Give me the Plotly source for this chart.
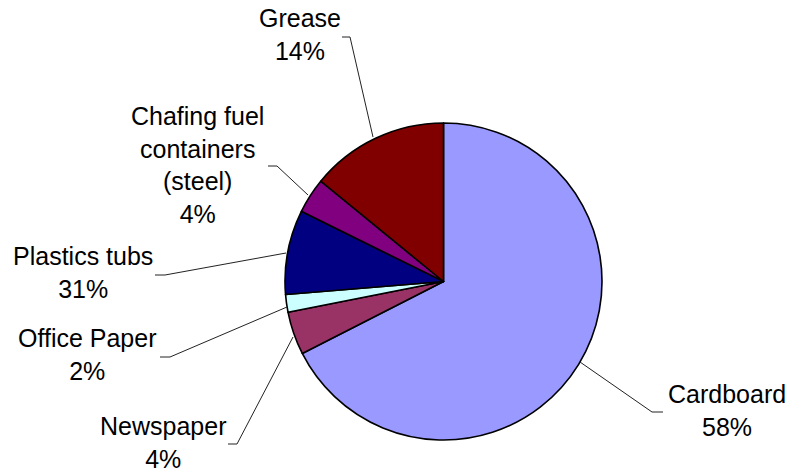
import plotly.graph_objects as go

W, H = 788, 472

# Data (slice sizes; label texts as printed)
categories = ["Cardboard", "Newspaper", "Office Paper", "Plastics tubs",
              "Chafing fuel containers (steel)", "Grease"]
slice_values = [67.5, 4.4, 1.8, 8.6, 3.6, 14.1]
label_texts = ["Cardboard<br>58%", "Newspaper<br>4%", "Office Paper<br>2%",
               "Plastics tubs<br>31%", "Chafing fuel<br>containers<br>(steel)<br>4%",
               "Grease<br>14%"]
colors = ["#9999FF", "#993366", "#CCFFFF", "#000080", "#800080", "#800000"]

# Layout: label positions (pixels) and leader-line paths (pixels)
label_pos = [(727, 410), (163, 442), (87, 354), (83, 272), (198, 165), (300, 34)]
leaders = [
    [(580, 362), (652, 412), (663, 412)],
    [(293, 337), (237, 444), (228, 444)],
    [(287, 307), (170, 357), (160, 357)],
    [(286, 253), (165, 275), (155, 275)],
    [(308, 195), (277, 166), (268, 166)],
    [(373, 137), (350, 37), (342, 37)],
]

cx, cy, r = 443.5, 281.5, 158.5

def px(x):
    return x / W

def py(y):
    return 1 - y / H

fig = go.Figure(go.Pie(
    labels=categories,
    values=slice_values,
    sort=False,
    direction="clockwise",
    rotation=0,
    textinfo="none",
    marker=dict(colors=colors, line=dict(color="black", width=1.6)),
    domain=dict(x=[px(cx - r), px(cx + r)], y=[py(cy + r), py(cy - r)]),
    showlegend=False,
))

annotations = []
for txt, (x, y) in zip(label_texts, label_pos):
    annotations.append(dict(
        x=px(x), y=py(y), xref="paper", yref="paper",
        text=txt, showarrow=False, xanchor="center", yanchor="middle",
        font=dict(family="Liberation Sans, Arial", size=25, color="black"),
    ))

shapes = []
for pts in leaders:
    path = "M " + " L ".join(f"{px(x)},{py(y)}" for x, y in pts)
    shapes.append(dict(type="path", path=path, xref="paper", yref="paper",
                       line=dict(color="#222222", width=1)))

fig.update_layout(
    width=W, height=H,
    margin=dict(l=0, r=0, t=0, b=0),
    paper_bgcolor="white", plot_bgcolor="white",
    annotations=annotations, shapes=shapes,
)

fig.write_html("out.html")
